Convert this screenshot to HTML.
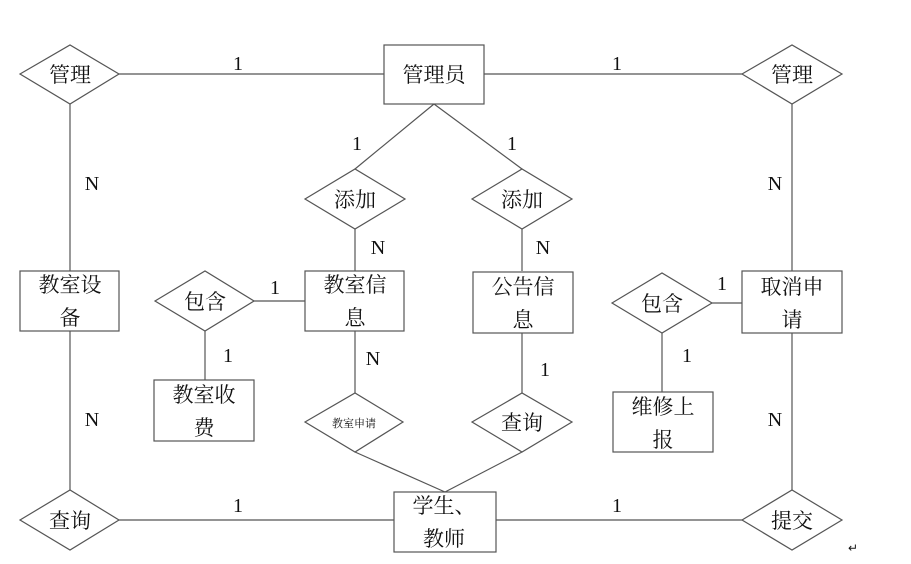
<!DOCTYPE html>
<html><head><meta charset="utf-8"><style>
html,body{margin:0;padding:0;background:#fff;}
svg text{font-family:"Liberation Serif","Noto Serif CJK SC",serif;fill:#111;}
</style></head><body>
<svg width="911" height="559" viewBox="0 0 911 559" xmlns="http://www.w3.org/2000/svg">
<g stroke="#555" stroke-width="1.2" fill="none">
<!-- top lines -->
<line x1="119" y1="74" x2="384" y2="74"/>
<line x1="484" y1="74" x2="742" y2="74"/>
<line x1="70" y1="104" x2="70" y2="271"/>
<line x1="70" y1="331" x2="70" y2="490"/>
<line x1="792" y1="104" x2="792" y2="271"/>
<line x1="792" y1="333" x2="792" y2="490"/>
<line x1="119" y1="520" x2="394" y2="520"/>
<line x1="496" y1="520" x2="742" y2="520"/>
<line x1="434" y1="104" x2="355" y2="169"/>
<line x1="434" y1="104" x2="522" y2="169"/>
<line x1="355" y1="229" x2="355" y2="271"/>
<line x1="522" y1="229" x2="522" y2="271"/>
<line x1="254" y1="301" x2="305" y2="301"/>
<line x1="205" y1="331" x2="205" y2="380"/>
<line x1="355" y1="331" x2="355" y2="393"/>
<line x1="522" y1="333" x2="522" y2="393"/>
<line x1="712" y1="303" x2="742" y2="303"/>
<line x1="662" y1="333" x2="662" y2="392"/>
<line x1="355" y1="452" x2="445" y2="492"/>
<line x1="522" y1="452" x2="445" y2="492"/>
<!-- rects -->
<rect x="384" y="45" width="100" height="59"/>
<rect x="20" y="271" width="99" height="60"/>
<rect x="305" y="271" width="99" height="60"/>
<rect x="473" y="272" width="100" height="61"/>
<rect x="742" y="271" width="100" height="62"/>
<rect x="154" y="380" width="100" height="61"/>
<rect x="613" y="392" width="100" height="60"/>
<rect x="394" y="492" width="102" height="60"/>
<!-- diamonds -->
<polygon points="20,74 70,45 119,74 70,104" fill="#fff"/>
<polygon points="742,74 792,45 842,74 792,104" fill="#fff"/>
<polygon points="305,199 355,169 405,199 355,229" fill="#fff"/>
<polygon points="472,199 522,169 572,199 522,229" fill="#fff"/>
<polygon points="155,301 205,271 254,301 205,331" fill="#fff"/>
<polygon points="612,303 662,273 712,303 662,333" fill="#fff"/>
<polygon points="305,422 355,393 403,422 355,452" fill="#fff"/>
<polygon points="472,422 522,393 572,422 522,452" fill="#fff"/>
<polygon points="20,520 70,490 119,520 70,550" fill="#fff"/>
<polygon points="742,520 792,490 842,520 792,550" fill="#fff"/>
</g>
<g font-size="21" text-anchor="middle">
<text x="70" y="82">管理</text>
<text x="792" y="82">管理</text>
<text x="434" y="82">管理员</text>
<text x="355" y="207">添加</text>
<text x="522" y="207">添加</text>
<text x="70" y="292">教室设</text>
<text x="70" y="325">备</text>
<text x="355" y="292">教室信</text>
<text x="355" y="325">息</text>
<text x="523" y="294">公告信</text>
<text x="523" y="327">息</text>
<text x="792" y="294">取消申</text>
<text x="792" y="327">请</text>
<text x="205" y="309">包含</text>
<text x="662" y="311">包含</text>
<text x="204" y="402">教室收</text>
<text x="204" y="435">费</text>
<text x="663" y="414">维修上</text>
<text x="663" y="447">报</text>
<text x="522" y="430">查询</text>
<text x="70" y="528">查询</text>
<text x="792" y="528">提交</text>
<text x="444" y="513">学生、</text>
<text x="444" y="546">教师</text>
<text x="354" y="427" font-size="11">教室申请</text>
</g>
<g font-size="20" text-anchor="middle">
<text x="238" y="70">1</text>
<text x="617" y="70">1</text>
<text x="92" y="190">N</text>
<text x="92" y="426">N</text>
<text x="775" y="190">N</text>
<text x="775" y="426">N</text>
<text x="238" y="512">1</text>
<text x="617" y="512">1</text>
<text x="357" y="150">1</text>
<text x="512" y="150">1</text>
<text x="378" y="254">N</text>
<text x="543" y="254">N</text>
<text x="275" y="294">1</text>
<text x="722" y="290">1</text>
<text x="228" y="362">1</text>
<text x="687" y="362">1</text>
<text x="373" y="365">N</text>
<text x="545" y="376">1</text>
<text x="853" y="552" font-size="12" fill="#999">↵</text>
</g>
</svg>
</body></html>
